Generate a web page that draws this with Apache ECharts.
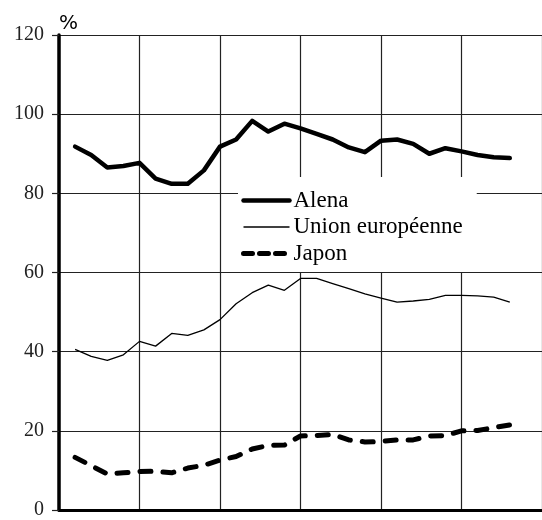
<!DOCTYPE html>
<html>
<head>
<meta charset="utf-8">
<script src="https://cdn.jsdelivr.net/npm/echarts@6/dist/echarts.min.js"></script>
<style>
  html, body { margin: 0; padding: 0; background: #fff; }
  #chart { width: 542px; height: 520px; }
</style>
</head>
<body>
<div id="chart"></div>
<script>
// positions on the x scale (axis runs 0..30, one grid column = 5 steps)
var periods = [1, 2, 3, 4, 5, 6, 7, 8, 9, 10, 11, 12, 13, 14, 15, 16, 17, 18, 19, 20, 21, 22, 23, 24, 25, 26, 27, 28];

var alena = [91.8, 89.7, 86.5, 86.9, 87.7, 83.7, 82.4, 82.4, 85.8, 91.8, 93.6, 98.3, 95.6, 97.6, 96.4, 95.0, 93.6, 91.6, 90.4, 93.3, 93.6, 92.5, 90.0, 91.4, 90.6, 89.7, 89.1, 88.9];
var unionEuropeenne = [40.6, 38.8, 37.8, 39.2, 42.6, 41.4, 44.6, 44.1, 45.5, 48.1, 52.1, 54.9, 56.8, 55.5, 58.5, 58.5, 57.2, 55.9, 54.6, 53.5, 52.5, 52.8, 53.2, 54.2, 54.2, 54.1, 53.8, 52.5];
var japon = [13.3, 11.2, 9.1, 9.4, 9.7, 9.8, 9.4, 10.6, 11.3, 12.6, 13.5, 15.4, 16.3, 16.4, 18.7, 18.8, 19.1, 17.7, 17.2, 17.3, 17.7, 17.7, 18.7, 18.8, 20.0, 20.1, 20.8, 21.5];

var yTicks = [0, 20, 40, 60, 80, 100, 120];

function pairs(vals) {
    return periods.map(function (p, i) {
        return [p, vals[i]];
    });
}

var chart = echarts.init(document.getElementById('chart'));

var option = {
    backgroundColor: '#fff',
    animation: false,
    title: {
        text: '%',
        left: 54,
        top: 9,
        textStyle: {
            fontFamily: 'DejaVu Sans',
            fontSize: 20,
            fontWeight: 'normal',
            color: '#000'
        }
    },
    legend: {
        orient: 'vertical',
        left: 238,
        top: 177,
        padding: [12, 14, 7, 3],
        itemGap: 3.5,
        itemWidth: 46,
        itemHeight: 20,
        backgroundColor: '#fff',
        itemStyle: { opacity: 0 },
        textStyle: {
            fontFamily: 'Liberation Serif',
            fontSize: 23,
            color: '#000',
            padding: [0, 0, 0, -1]
        },
        data: [
            { name: 'Alena', lineStyle: { width: 4.5 } },
            { name: 'Union européenne', lineStyle: { width: 1.3 } },
            { name: 'Japon', lineStyle: { width: 5, type: [9, 7] } }
        ]
    },
    grid: {
        left: 59,
        top: 35,
        width: 485,
        bottom: 6
    },
    xAxis: {
        type: 'value',
        min: 0,
        max: 30,
        interval: 5,
        axisLine: {
            show: true,
            onZero: false,
            lineStyle: { color: '#000', width: 3 }
        },
        axisTick: { show: false },
        axisLabel: { show: false },
        splitLine: {
            show: true,
            lineStyle: { color: '#222', width: 1.2 }
        }
    },
    yAxis: {
        type: 'value',
        min: yTicks[0],
        max: yTicks[yTicks.length - 1],
        interval: 20,
        axisLine: {
            show: true,
            lineStyle: { color: '#000', width: 3.5 }
        },
        axisTick: {
            show: true,
            length: 7,
            lineStyle: { color: '#222', width: 1.2 }
        },
        axisLabel: {
            margin: 15,
            fontFamily: 'Liberation Serif',
            fontSize: 20,
            color: '#222'
        },
        splitLine: {
            show: true,
            lineStyle: { color: '#222', width: 1.2 }
        }
    },
    series: [
        {
            name: 'Alena',
            type: 'line',
            symbol: 'none',
            z: 3,
            lineStyle: { color: '#000', width: 4.5, join: 'round', cap: 'round' },
            itemStyle: { color: '#000' },
            data: pairs(alena)
        },
        {
            name: 'Union européenne',
            type: 'line',
            symbol: 'none',
            z: 3,
            lineStyle: { color: '#000', width: 1.3 },
            itemStyle: { color: '#000' },
            data: pairs(unionEuropeenne)
        },
        {
            name: 'Japon',
            type: 'line',
            symbol: 'none',
            z: 3,
            lineStyle: { color: '#000', width: 5, type: [11, 12], cap: 'round', join: 'round' },
            itemStyle: { color: '#000' },
            data: pairs(japon)
        }
    ]
};

chart.setOption(option);
</script>
</body>
</html>
